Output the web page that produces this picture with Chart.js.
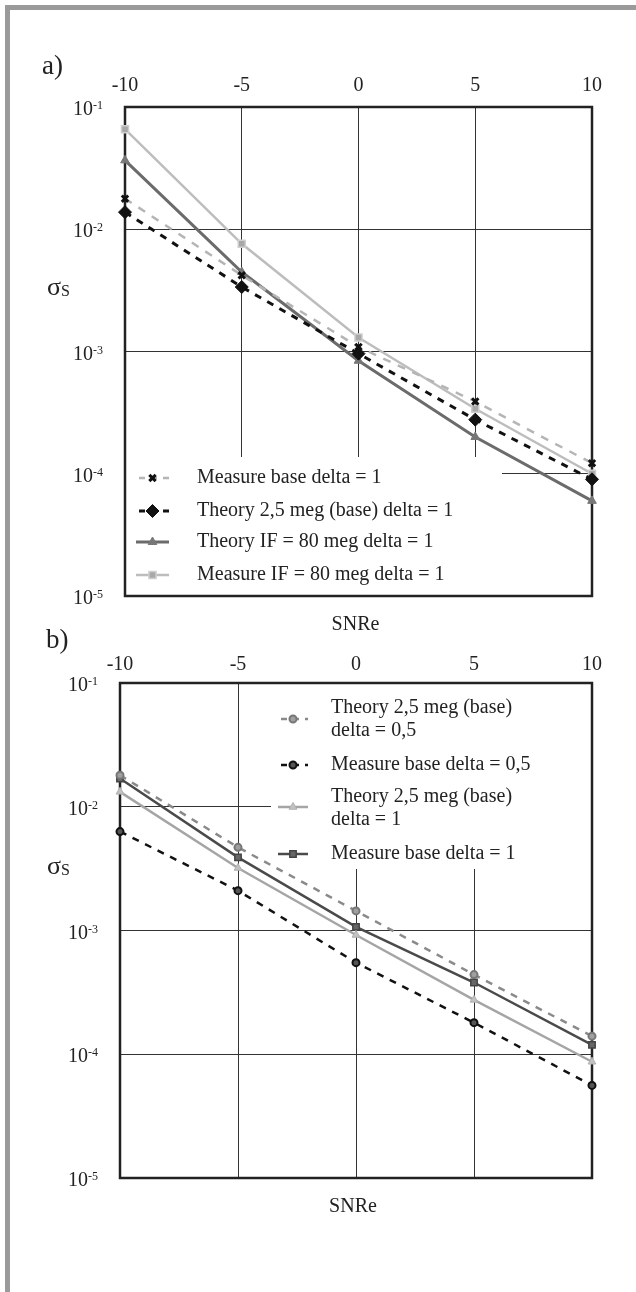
<!DOCTYPE html>
<html>
<head>
<meta charset="utf-8">
<script src="https://cdn.jsdelivr.net/npm/chart.js@4.4.1/dist/chart.umd.min.js"></script>
<style>
  body { margin: 0; background: #fff; width: 636px; height: 1292px; position: relative; overflow: hidden; }
  .band-top { position: absolute; left: 5px; top: 5px; width: 631px; height: 5px; background: #9a9a9a; }
  .band-left { position: absolute; left: 5px; top: 5px; width: 5px; height: 1287px; background: #9a9a9a; }
  canvas { position: absolute; left: 0; }
  .tag { position: absolute; font-family: "Liberation Serif", serif; font-size: 27px; color: #222; z-index: 2; }
</style>
</head>
<body>
<div class="band-top"></div>
<div class="band-left"></div>
<div class="tag" style="left:42px;top:50px">a)</div>
<div class="tag" style="left:46px;top:624px">b)</div>
<canvas id="chartA" width="636" height="640" style="top:0"></canvas>
<canvas id="chartB" width="636" height="652" style="top:640px"></canvas>
<script>
const snr = [-10, -5, 0, 5, 10];
const xTicks = [-10, -5, 0, 5, 10];
const yTicks = [1e-1, 1e-2, 1e-3, 1e-4, 1e-5];
const yExp = ["-1", "-2", "-3", "-4", "-5"];

// chart a)
const aMeasureBase = [0.0178, 0.0042, 0.00109, 0.00039, 0.000122];
const aTheoryBase = [0.0138, 0.00337, 0.00096, 0.000277, 0.00009];
const aTheoryIF = [0.0366, 0.00447, 0.00084, 0.0002, 0.00006];
const aMeasureIF = [0.0658, 0.0076, 0.0013, 0.00034, 0.0001];

// chart b)
const bTheoryHalf = [0.018, 0.0047, 0.00144, 0.00044, 0.00014];
const bMeasureHalf = [0.0063, 0.0021, 0.00055, 0.00018, 0.000056];
const bTheoryOne = [0.0132, 0.0032, 0.00092, 0.000275, 0.000087];
const bMeasureOne = [0.0169, 0.0039, 0.00107, 0.00038, 0.000119];

const serif = '"Liberation Serif", serif';
const ink = "#222";

function pts(arr) {
  return snr.map((x, i) => ({ x: x, y: arr[i] }));
}

function series(label, arr, st) {
  return {
    label: label,
    data: pts(arr),
    borderColor: st.line,
    borderWidth: st.width,
    borderDash: st.dash || [],
    pointStyle: st.point,
    pointRadius: st.radius,
    pointBackgroundColor: st.fill,
    pointBorderColor: st.edge,
    pointBorderWidth: st.edgeWidth,
    tension: 0,
    clip: false,
    lines: st.lines || [label]
  };
}

const styleA = [
  { line: "#b5b5b5", width: 2.5, dash: [8, 8], point: "crossRot", radius: 4.5, fill: "#111", edge: "#111", edgeWidth: 3 },
  { line: "#111", width: 3, dash: [7, 7], point: "rectRot", radius: 6.5, fill: "#111", edge: "#111", edgeWidth: 1 },
  { line: "#6b6b6b", width: 3, point: "triangle", radius: 5, fill: "#777", edge: "#777", edgeWidth: 1 },
  { line: "#bdbdbd", width: 2.5, point: "rect", radius: 5, fill: "#a8a8a8", edge: "#cfcfcf", edgeWidth: 1.5 }
];
const styleB = [
  { line: "#8a8a8a", width: 2.5, dash: [7, 7], point: "circle", radius: 3.5, fill: "#a0a0a0", edge: "#777", edgeWidth: 2 },
  { line: "#111", width: 2.5, dash: [7, 7], point: "circle", radius: 3.5, fill: "#555", edge: "#111", edgeWidth: 2 },
  { line: "#a5a5a5", width: 2.5, point: "triangle", radius: 4.5, fill: "#c2c2c2", edge: "#b0b0b0", edgeWidth: 1 },
  { line: "#4a4a4a", width: 2.5, point: "rect", radius: 4.5, fill: "#666", edge: "#444", edgeWidth: 1.5 }
];

const setsA = [
  series("Measure base delta = 1", aMeasureBase, styleA[0]),
  series("Theory 2,5 meg (base) delta = 1", aTheoryBase, styleA[1]),
  series("Theory IF = 80 meg delta = 1", aTheoryIF, styleA[2]),
  series("Measure IF = 80 meg delta = 1", aMeasureIF, styleA[3])
];
const setsB = [
  series("Theory 2,5 meg (base) delta = 0,5", bTheoryHalf, Object.assign({ lines: ["Theory 2,5 meg (base)", "delta = 0,5"] }, styleB[0])),
  series("Measure base delta = 0,5", bMeasureHalf, styleB[1]),
  series("Theory 2,5 meg (base) delta = 1", bTheoryOne, Object.assign({ lines: ["Theory 2,5 meg (base)", "delta = 1"] }, styleB[2])),
  series("Measure base delta = 1", bMeasureOne, styleB[3])
];

function marker(ctx, ds, x, y) {
  ctx.save();
  ctx.fillStyle = ds.pointBackgroundColor;
  ctx.strokeStyle = ds.pointBorderColor;
  ctx.lineWidth = ds.pointBorderWidth;
  ctx.setLineDash([]);
  Chart.helpers.drawPoint(ctx, { pointStyle: ds.pointStyle, radius: ds.pointRadius, rotation: 0, borderWidth: ds.pointBorderWidth }, x, y);
  ctx.restore();
}

// legend box, frame, tick labels and axis titles
function deco(cfg) {
  return {
    id: "deco",
    beforeDatasetsDraw(chart) {
      const ctx = chart.ctx, a = chart.chartArea;
      const box = cfg.box(a);
      ctx.save();
      ctx.fillStyle = "#fff";
      ctx.fillRect(box.x, box.y, box.w, box.h);
      ctx.strokeStyle = ink;
      ctx.lineWidth = 2.5;
      ctx.strokeRect(a.left, a.top, a.right - a.left, a.bottom - a.top);

      ctx.font = "20px " + serif;
      ctx.fillStyle = ink;
      ctx.textBaseline = "middle";
      chart.data.datasets.forEach((ds, i) => {
        const row = cfg.rows[i];
        const my = box.y + row.mark;
        ctx.save();
        ctx.strokeStyle = ds.borderColor;
        ctx.lineWidth = ds.borderWidth;
        ctx.setLineDash(ds.borderDash.length ? [6, 6] : []);
        ctx.lineDashOffset = ds.borderDash.length ? -3 : 0;
        ctx.beginPath();
        ctx.moveTo(box.x + cfg.sample[0], my);
        ctx.lineTo(box.x + cfg.sample[1], my);
        ctx.stroke();
        ctx.restore();
        marker(ctx, ds, box.x + (cfg.sample[0] + cfg.sample[1]) / 2, my);
        ds.lines.forEach((t, k) => {
          ctx.fillText(t, box.x + cfg.textX, box.y + row.text[k]);
        });
      });
      ctx.restore();
    },
    afterDraw(chart) {
      const ctx = chart.ctx, a = chart.chartArea;
      const xs = chart.scales.x, ys = chart.scales.y;
      ctx.save();
      ctx.fillStyle = ink;
      ctx.textBaseline = "alphabetic";

      ctx.font = "20px " + serif;
      ctx.textAlign = "center";
      xTicks.forEach(v => {
        ctx.fillText(String(v), xs.getPixelForValue(v), a.top - cfg.xGap);
      });

      ctx.textAlign = "left";
      yTicks.forEach((v, i) => {
        const y = ys.getPixelForValue(v);
        ctx.font = "12px " + serif;
        const sw = ctx.measureText(yExp[i]).width;
        ctx.font = "20px " + serif;
        const bw = ctx.measureText("10").width;
        const right = a.left - 22;
        ctx.fillText("10", right - sw - bw, y + 8);
        ctx.font = "12px " + serif;
        ctx.fillText(yExp[i], right - sw, y + 2);
      });

      const sy = a.top + 0.385 * (a.bottom - a.top);
      ctx.font = "26px " + serif;
      ctx.fillText("\u03C3", 47, sy);
      ctx.font = "16px " + serif;
      ctx.fillText("S", 61, sy + 1);

      ctx.font = "20px " + serif;
      ctx.textAlign = "center";
      ctx.fillText("SNRe", (a.left + a.right) / 2 - 3, a.bottom + 34);
      ctx.restore();
    }
  };
}

function makeChart(id, sets, pad, cfg) {
  return new Chart(document.getElementById(id), {
    type: "line",
    data: { datasets: sets },
    options: {
      responsive: false,
      animation: false,
      layout: { padding: pad },
      plugins: { legend: { display: false }, tooltip: { enabled: false } },
      scales: {
        x: {
          type: "linear", position: "top", min: -10, max: 10,
          afterBuildTicks: s => { s.ticks = xTicks.map(v => ({ value: v })); },
          afterFit: s => { s.height = 0; },
          ticks: { display: false },
          grid: { color: "#333", lineWidth: 1, drawTicks: false },
          border: { display: false }
        },
        y: {
          type: "logarithmic", min: 1e-5, max: 1e-1,
          afterBuildTicks: s => { s.ticks = yTicks.map(v => ({ value: v })); },
          afterFit: s => { s.width = 0; },
          ticks: { display: false },
          grid: { color: "#333", lineWidth: 1, drawTicks: false },
          border: { display: false }
        }
      }
    },
    plugins: [deco(cfg)]
  });
}

makeChart("chartA", setsA, { left: 125, top: 107, right: 44, bottom: 44 }, {
  box: a => ({ x: a.left + 1, y: a.bottom - 139, w: 376, h: 138 }),
  sample: [10, 43],
  textX: 71,
  rows: [
    { mark: 21, text: [21] },
    { mark: 54, text: [54] },
    { mark: 85, text: [85] },
    { mark: 118, text: [118] }
  ],
  xGap: 16
});

makeChart("chartB", setsB, { left: 120, top: 43, right: 44, bottom: 114 }, {
  box: a => ({ x: 271, y: a.top + 1, w: a.right - 272, h: 185 }),
  sample: [7, 37],
  textX: 60,
  rows: [
    { mark: 35, text: [24, 47] },
    { mark: 81, text: [81] },
    { mark: 123, text: [113, 136] },
    { mark: 170, text: [170] }
  ],
  xGap: 13
});
</script>
</body>
</html>
